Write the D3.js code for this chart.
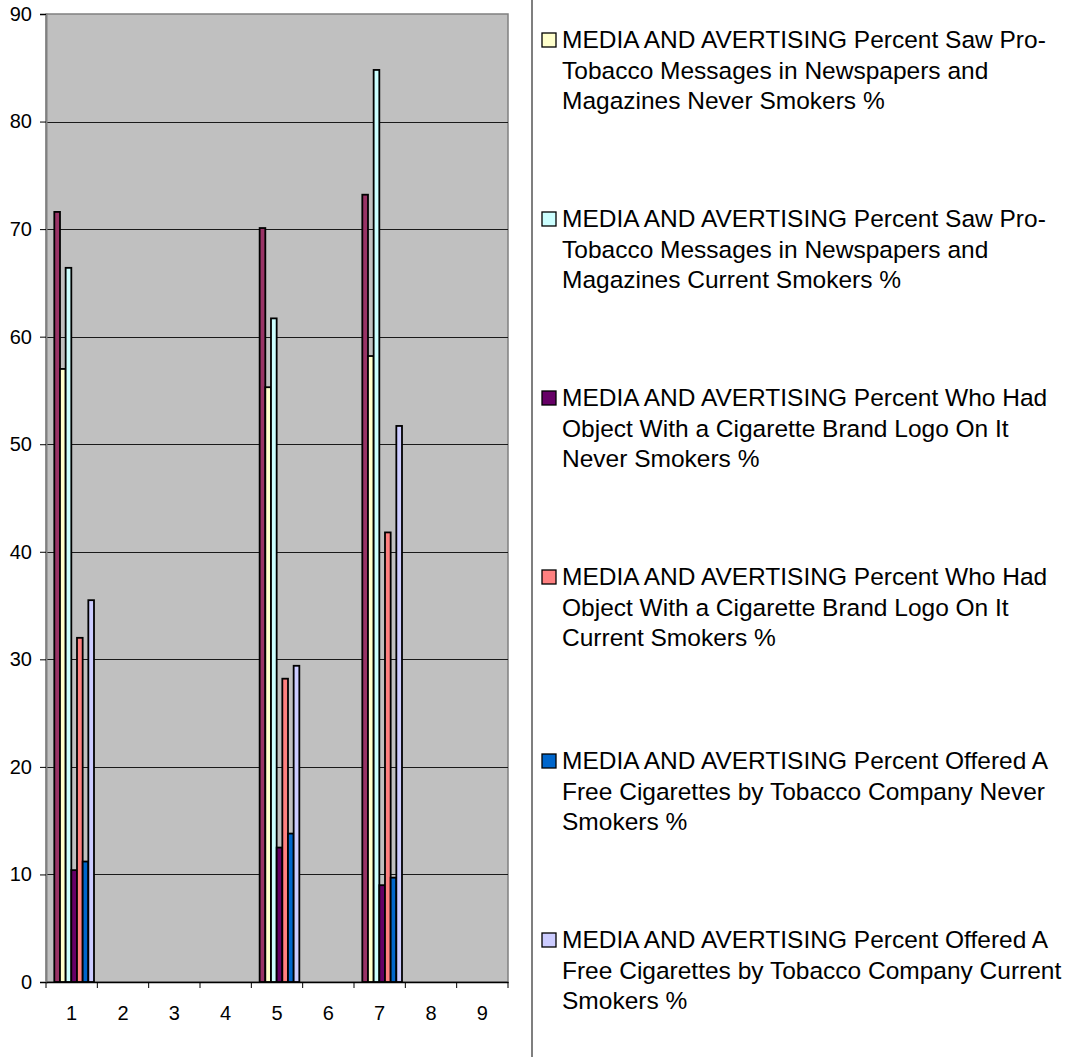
<!DOCTYPE html>
<html>
<head>
<meta charset="utf-8">
<script src="https://cdn.jsdelivr.net/npm/d3@7"></script>
<style>
  html, body { margin: 0; padding: 0; background: #ffffff; }
  svg { display: block; font-family: "Liberation Sans", Arial, sans-serif; }
</style>
</head>
<body>
<svg id="chart" width="1077" height="1057"></svg>
<script>
// Categories along the x axis
const categories = ["1", "2", "3", "4", "5", "6", "7", "8", "9"];

// Series names (legend labels, already broken into lines)
const seriesNames = [
  ["MEDIA AND AVERTISING Percent Saw Anti-", "Smoking Media Messages %"],
  ["MEDIA AND AVERTISING Percent Saw Pro-", "Tobacco Messages in Newspapers and", "Magazines Never Smokers %"],
  ["MEDIA AND AVERTISING Percent Saw Pro-", "Tobacco Messages in Newspapers and", "Magazines Current Smokers %"],
  ["MEDIA AND AVERTISING Percent Who Had", "Object With a Cigarette Brand Logo On It", "Never Smokers %"],
  ["MEDIA AND AVERTISING Percent Who Had", "Object With a Cigarette Brand Logo On It", "Current Smokers %"],
  ["MEDIA AND AVERTISING Percent Offered A", "Free Cigarettes by Tobacco Company Never", "Smokers %"],
  ["MEDIA AND AVERTISING Percent Offered A", "Free Cigarettes by Tobacco Company Current", "Smokers %"]
];

// Series values per category (null = no bar)
const s0 = [71.6, null, null, null, 70.1, null, 73.2, null, null];
const s1 = [57.0, null, null, null, 55.3, null, 58.2, null, null];
const s2 = [66.4, null, null, null, 61.7, null, 84.8, null, null];
const s3 = [10.4, null, null, null, 12.5, null, 9.0, null, null];
const s4 = [32.0, null, null, null, 28.2, null, 41.8, null, null];
const s5 = [11.2, null, null, null, 13.8, null, 9.7, null, null];
const s6 = [35.5, null, null, null, 29.4, null, 51.7, null, null];
const seriesValues = [s0, s1, s2, s3, s4, s5, s6];

const seriesColors = ["#993366", "#FFFFCC", "#CCFFFF", "#660066", "#FF8080", "#0066CC", "#CCCCFF"];

// Y axis ticks
const yTicks = [0, 10, 20, 30, 40, 50, 60, 70, 80, 90];

// Legend shows entries from this index onward
const legendStart = 1;

const FONT = "'Liberation Sans', Arial, sans-serif";
const svg = d3.select("#chart");

const plot = { left: 46, right: 508, top: 14, bottom: 982 };

const x0 = d3.scaleBand()
  .domain(categories)
  .range([plot.left, plot.right])
  .padding(0);

const bw = x0.bandwidth();
const x1 = d3.scaleBand()
  .domain(d3.range(seriesValues.length))
  .range([bw * 0.162, bw * 0.935])
  .padding(0);

const y = d3.scaleLinear()
  .domain([0, 90])
  .range([plot.bottom, plot.top]);

// Plot background
svg.append("rect")
  .attr("x", plot.left)
  .attr("y", plot.top)
  .attr("width", plot.right - plot.left)
  .attr("height", plot.bottom - plot.top)
  .attr("fill", "#C0C0C0")
  .attr("stroke", "#808080")
  .attr("stroke-width", 1.5);

// Horizontal gridlines
svg.append("g")
  .selectAll("line")
  .data(yTicks.filter(t => t > 0 && t < 90))
  .join("line")
  .attr("x1", plot.left)
  .attr("x2", plot.right)
  .attr("y1", d => Math.round(y(d)) + 0.5)
  .attr("y2", d => Math.round(y(d)) + 0.5)
  .attr("stroke", "#1a1a1a")
  .attr("stroke-width", 1);

// Bars
const bars = [];
seriesValues.forEach((vals, si) => {
  vals.forEach((v, ci) => {
    if (v != null) bars.push({ si, cat: categories[ci], v });
  });
});

svg.append("g")
  .selectAll("rect")
  .data(bars)
  .join("rect")
  .attr("x", d => x0(d.cat) + x1(d.si))
  .attr("y", d => y(d.v))
  .attr("width", x1.bandwidth())
  .attr("height", d => y(0) - y(d.v))
  .attr("fill", d => seriesColors[d.si])
  .attr("stroke", "#000000")
  .attr("stroke-width", 1.8);

// Y axis
const yAxis = d3.axisLeft(y)
  .tickValues(yTicks)
  .tickSize(6)
  .tickPadding(8)
  .tickFormat(d3.format("d"));

const gy = svg.append("g")
  .attr("transform", `translate(${plot.left},0)`)
  .call(yAxis);
gy.select(".domain").attr("stroke", "#808080").attr("stroke-width", 2);
gy.selectAll(".tick line").attr("stroke", "#000000");
gy.selectAll(".tick text")
  .attr("font-size", 20)
  .attr("fill", "#000000")
  .attr("font-family", FONT);

// X axis
const xAxis = d3.axisBottom(x0)
  .tickSize(0)
  .tickPadding(24);

const gx = svg.append("g")
  .attr("transform", `translate(0,${plot.bottom})`)
  .call(xAxis);
gx.select(".domain").attr("stroke", "#000000").attr("stroke-width", 1.5);
gx.selectAll(".tick text")
  .attr("font-size", 20)
  .attr("fill", "#000000")
  .attr("font-family", FONT);

// Category boundary tick marks on x axis
svg.append("g")
  .selectAll("line")
  .data(d3.range(categories.length + 1))
  .join("line")
  .attr("x1", i => plot.left + i * bw)
  .attr("x2", i => plot.left + i * bw)
  .attr("y1", plot.bottom)
  .attr("y2", plot.bottom + 6)
  .attr("stroke", "#000000")
  .attr("stroke-width", 1);

// Legend box
svg.append("rect")
  .attr("x", 532)
  .attr("y", -2)
  .attr("width", 600)
  .attr("height", 1070)
  .attr("fill", "#ffffff")
  .attr("stroke", "#000000")
  .attr("stroke-width", 1);

const legendBaselines = [48, 227, 406, 585, 769, 948];
const legendItems = d3.range(legendStart, seriesNames.length);

const lg = svg.append("g")
  .selectAll("g")
  .data(legendItems)
  .join("g")
  .attr("transform", (d, i) => `translate(0,${legendBaselines[i]})`);

lg.append("rect")
  .attr("x", 542)
  .attr("y", -15)
  .attr("width", 14)
  .attr("height", 14)
  .attr("fill", d => seriesColors[d])
  .attr("stroke", "#000000")
  .attr("stroke-width", 1.3);

lg.append("text")
  .attr("x", 562)
  .attr("y", 0)
  .attr("font-size", 24.5)
  .attr("font-family", FONT)
  .attr("fill", "#000000")
  .selectAll("tspan")
  .data(d => seriesNames[d])
  .join("tspan")
  .attr("x", 562)
  .attr("dy", (t, i) => i === 0 ? 0 : 30.5)
  .text(t => t);
</script>
</body>
</html>
